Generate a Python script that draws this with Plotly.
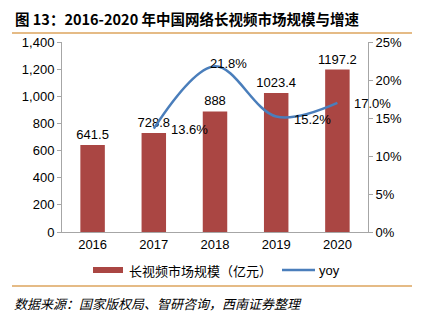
import plotly.graph_objects as go

years = ["2016", "2017", "2018", "2019", "2020"]
market = [641.5, 728.8, 888, 1023.4, 1197.2]
yoy_years = ["2017", "2018", "2019", "2020"]
yoy = [0.136, 0.218, 0.152, 0.170]
yoy_labels = ["13.6%", "21.8%", "15.2%", "17.0%"]

title = "<b>图 13：2016-2020 年中国网络长视频市场规模与增速</b>"
source = "<i>数据来源：国家版权局、智研咨询，西南证券整理</i>"
legend_bar = "长视频市场规模（亿元）"
legend_line = "yoy"

BAR = "#AA4643"
LINE = "#4A7EBB"
ORANGE = "#DDA55E"
AX = "#A6A6A6"
FONT = "Liberation Sans, Arial, Noto Sans CJK SC"
CJK = "Noto Sans CJK SC, Liberation Sans"

fig = go.Figure()
fig.add_trace(go.Bar(
    x=years, y=market, marker=dict(color=BAR, line=dict(width=0)), width=0.4,
    text=[f"{v:g}" for v in market], textposition="outside", constraintext="none",
    textfont=dict(size=13, color="#000", family=FONT), cliponaxis=False,
    showlegend=False, yaxis="y"))
fig.add_trace(go.Scatter(
    x=yoy_years, y=yoy, mode="lines",
    line=dict(color=LINE, width=2.5, shape="spline", smoothing=1.0),
    showlegend=False, yaxis="y2", cliponaxis=False))

# category axis: annotations take the category index
shifts = [(15, -1), (-7, 3), (16, -3), (15, -1)]
for xv, yv, lab, (dx, dy) in zip(yoy_years, yoy, yoy_labels, shifts):
    fig.add_annotation(x=years.index(xv), y=yv, xref="x", yref="y2", text=lab, showarrow=False,
                       xanchor="left", yanchor="middle", xshift=dx, yshift=dy,
                       font=dict(size=13, color="#000", family=FONT))

fig.update_layout(
    width=423, height=323, margin=dict(l=62, r=55, t=42, b=91),
    paper_bgcolor="white", plot_bgcolor="white", bargap=0.6,
    font=dict(family=FONT, size=13, color="#000"),
    xaxis=dict(type="category", categoryorder="array", categoryarray=years, range=[-0.5, 4.5],
               showline=True, linecolor=AX, linewidth=1, ticks="", showgrid=False,
               tickfont=dict(size=13), zeroline=False),
    yaxis=dict(range=[0, 1400], dtick=200, tickformat=",", showline=True, linecolor=AX,
               ticks="outside", ticklen=4, tickcolor=AX, showgrid=False, zeroline=False,
               tickfont=dict(size=13)),
    yaxis2=dict(range=[0, 0.25], dtick=0.05, tickformat=".0%", overlaying="y", side="right",
                anchor="x", showline=True, linecolor=AX, ticks="outside", ticklen=4, tickcolor=AX,
                showgrid=False, zeroline=False, tickfont=dict(size=13)),
)

def px(x):
    return (x-62)/306
def py(y):
    return (232-y)/190

# header / footer
fig.add_annotation(text=title, xref="paper", yref="paper", x=px(13), y=py(18),
                   xanchor="left", yanchor="middle", showarrow=False,
                   font=dict(size=14.5, family=CJK, color="#000"))
fig.add_annotation(text=source, xref="paper", yref="paper", x=px(12), y=py(303),
                   xanchor="left", yanchor="middle", showarrow=False,
                   font=dict(size=13, family=CJK, color="#000"))

for yy in (33, 286):
    fig.add_shape(type="line", xref="paper", yref="paper", x0=px(12), x1=px(412), y0=py(yy), y1=py(yy),
                  line=dict(color=ORANGE, width=1.5))

# legend
fig.add_shape(type="rect", xref="paper", yref="paper", x0=px(93), x1=px(123), y0=py(273), y1=py(267),
              fillcolor=BAR, line=dict(width=0))
fig.add_annotation(text=legend_bar, xref="paper", yref="paper", x=px(127), y=py(270), xanchor="left",
                   yanchor="middle", showarrow=False, font=dict(size=13, family=CJK, color="#000"))
fig.add_shape(type="line", xref="paper", yref="paper", x0=px(282), x1=px(315), y0=py(270), y1=py(270),
              line=dict(color=LINE, width=2.5))
fig.add_annotation(text=legend_line, xref="paper", yref="paper", x=px(317), y=py(270), xanchor="left",
                   yanchor="middle", showarrow=False, font=dict(size=13, family=FONT, color="#000"))

fig.write_html("out.html")
